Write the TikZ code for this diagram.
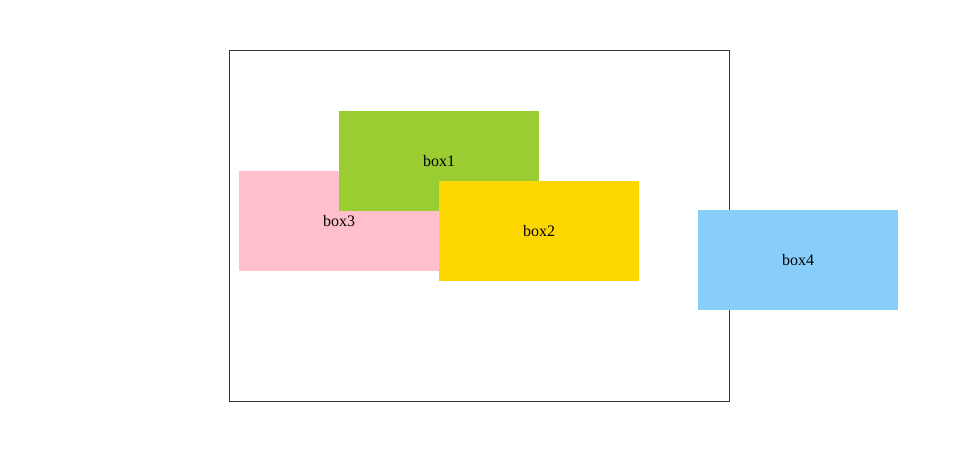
\documentclass[tikz,border=0pt]{standalone}
\usepackage{fontspec}
\setmainfont{Liberation Serif}
\usetikzlibrary{positioning}
\definecolor{BoxGreen}{HTML}{9ACD32}
\definecolor{BoxPink}{HTML}{FFC0CB}
\definecolor{BoxGold}{HTML}{FFD700}
\definecolor{BoxSky}{HTML}{87CEFA}
\definecolor{FrameGrey}{HTML}{333333}

\begin{document}
\begin{tikzpicture}[x=0.75pt, y=-0.75pt, font=\fontsize{12}{14}\selectfont,
    box/.style={minimum width=150pt, minimum height=75pt, inner sep=0pt, draw=none}]
      \useasboundingbox (0,0) rectangle (956,469);
      \node (frame) [draw=FrameGrey, line width=0.75pt, minimum width=375pt, minimum height=263.25pt, inner sep=0pt] at (479,225.5) {};
      
      \node (box3) [box, fill=BoxPink] at (339,221) {box3};
      \node (box1) [box, fill=BoxGreen] at (439,161) {box1};
      \node (box2) [box, fill=BoxGold] at (539,231) {box2};
      \node (box4) [box, fill=BoxSky] at (798,260) {box4};
    \end{tikzpicture}
\end{document}
